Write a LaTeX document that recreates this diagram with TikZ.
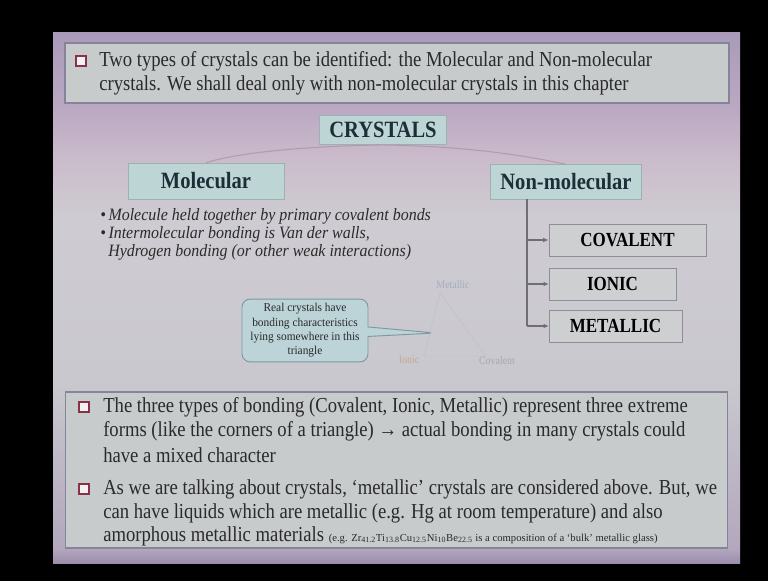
\documentclass[tikz,border=0pt]{standalone}
\usepackage{fontspec}
\setmainfont{Liberation Serif}[FakeStretch=0.875]
\newfontfamily\hdrfont{Liberation Serif}[FakeStretch=0.88]
\newfontfamily\kindfont{Liberation Serif}[FakeStretch=0.85]
\newfontfamily\itfont{Liberation Serif}[FakeStretch=0.92]
\newfontfamily\smallfont{Liberation Serif}[FakeStretch=1.0]
\newfontfamily\callfont{Liberation Serif}[FakeStretch=0.95]
\usetikzlibrary{shapes.callouts,arrows.meta}
\definecolor{sA}{HTML}{9C8DAD}
\definecolor{sB}{HTML}{B3A8BE}
\definecolor{sC}{HTML}{C9C8CE}
\definecolor{sD}{HTML}{CECCD2}
\definecolor{sE}{HTML}{CBBCCB}
\definecolor{sF}{HTML}{BBA9C3}
\definecolor{sG}{HTML}{A99BB9}
\definecolor{panelfill}{HTML}{C8CBCB}
\definecolor{paneldraw}{HTML}{86849A}
\definecolor{hdrfill}{HTML}{BDD5D5}
\definecolor{hdrdraw}{HTML}{9AB2B2}
\definecolor{hdrtext}{HTML}{1E2E38}
\definecolor{boxfill}{HTML}{CDCFD1}
\definecolor{boxdraw}{HTML}{8E8E96}
\definecolor{textcol}{HTML}{2A2A2A}
\definecolor{callfill}{HTML}{BCD4D8}
\definecolor{calldraw}{HTML}{7C98A0}
\definecolor{linkcol}{HTML}{B59AAE}
\definecolor{treecol}{HTML}{6E6E74}
\definecolor{tricol}{HTML}{C2C4CA}
\definecolor{cbred}{HTML}{8A3048}
\definecolor{metlab}{HTML}{A4ABC4}
\definecolor{ionlab}{HTML}{C6A892}
\definecolor{covlab}{HTML}{A8A8AC}
\pgfdeclareverticalshading{slidebg}{100bp}{color(0bp)=(sA); color(25bp)=(sA); color(26.4bp)=(sB); color(42.3bp)=(sC); color(57.4bp)=(sD); color(63bp)=(sE); color(67.7bp)=(sF); color(75bp)=(sG); color(100bp)=(sG)}
\begin{document}
\begin{tikzpicture}[x=0.75pt,y=-0.75pt,
  panel/.style={draw=paneldraw, line width=0.8pt, fill=panelfill, inner sep=0pt},
  hdr/.style={draw=hdrdraw, fill=hdrfill, text=hdrtext, font=\hdrfont\bfseries\fontsize{17.5}{19}\selectfont, inner sep=0pt},
  kind/.style={draw=boxdraw, fill=boxfill, text=black, font=\kindfont\bfseries\fontsize{15}{17}\selectfont, inner sep=0pt},
  txtline/.style={anchor=west, inner sep=0pt, text=textcol, font=\fontsize{16}{17}\selectfont},
  itline/.style={anchor=west, inner sep=0pt, text=textcol, font=\itfont\itshape\fontsize{13}{14}\selectfont},
  cbx/.style={draw=cbred, line width=1.1pt, fill=white!90!gray, minimum size=7.5pt, inner sep=0pt},
  link/.style={draw=linkcol, line width=0.8pt},
  tree/.style={draw=treecol, line width=0.8pt},
  tlab/.style={inner sep=0pt, font=\fontsize{8.5}{9}\selectfont}
]
% background and slide
\fill[black] (0,0) rectangle (768,581);
\shade[shading=slidebg] (53,33) rectangle (740,563);

% top panel
\node[panel, minimum width=498pt, minimum height=45pt] (toppanel) at (397,73) {};
\node[cbx] (cb1) at (81,61) {};
\node[txtline] (t1) at (99,61) {Two types of crystals can be identified: the Molecular and Non-molecular};
\node[txtline] (t2) at (99,85) {crystals. We shall deal only with non-molecular crystals in this chapter};

% hierarchy
\node[hdr, minimum width=95pt, minimum height=22pt] (crys) at (383,130) {CRYSTALS};
\node[hdr, minimum width=117pt, minimum height=27pt] (mol) at (206,181) {Molecular};
\node[hdr, minimum width=113pt, minimum height=26pt] (nonmol) at (566,182) {Non-molecular};
\draw[link] (crys.south) .. controls (310,146) and (240,152) .. (mol.north);
\draw[link] (crys.south) .. controls (450,146) and (510,152) .. (nonmol.north);

% molecular bullets
\node[itline] (b1) at (100,216) {\textbullet\hspace{2pt}Molecule held together by primary covalent bonds};
\node[itline] (b2) at (100,234) {\textbullet\hspace{2pt}Intermolecular bonding is Van der walls,};
\node[itline] (b3) at (108,252) {Hydrogen bonding (or other weak interactions)};

% non-molecular kinds
\node[kind, minimum width=118pt, minimum height=24pt] (cov) at (627.5,240) {COVALENT};
\node[kind, minimum width=95pt, minimum height=24pt] (ion) at (612.5,284) {IONIC};
\node[kind, minimum width=99.5pt, minimum height=24pt] (met) at (615.5,326) {METALLIC};
\coordinate (trunk) at (527,199);
\draw[tree] (trunk) -- (trunk |- met.west);
\draw[tree,-{Latex[length=4pt,width=3.5pt]}] (trunk |- cov.west) -- (cov.west);
\draw[tree,-{Latex[length=4pt,width=3.5pt]}] (trunk |- ion.west) -- (ion.west);
\draw[tree,-{Latex[length=4pt,width=3.5pt]}] (trunk |- met.west) -- (met.west);

% triangle
\coordinate (ta) at (440,293);
\coordinate (tl) at (424,356);
\coordinate (tr) at (486,356);
\draw[tricol, line width=0.6pt] (ta) -- (tl) -- (tr) -- cycle;
\node[tlab, text=metlab] (metl) at (453,285) {Metallic};
\node[tlab, text=ionlab] (ionl) at (409,360) {Ionic};
\node[tlab, text=covlab] (covl) at (497,361) {Covalent};
\coordinate (tri) at (435,333);
\node[rectangle callout, rounded corners=6pt, draw=calldraw, line width=0.7pt, fill=callfill,
      minimum width=94.5pt, minimum height=47pt, inner sep=1pt, align=center,
      text=textcol, font=\callfont\fontsize{9}{10.8}\selectfont,
      callout absolute pointer={(tri)}] (call) at (305,330.5)
      {Real crystals have\\bonding characteristics\\lying somewhere in this\\triangle};

% bottom panel
\node[panel, minimum width=497pt, minimum height=117pt] (botpanel) at (396.5,470) {};
\node[cbx] (cb2) at (84,407) {};
\node[txtline] (u1) at (103,407) {The three types of bonding (Covalent, Ionic, Metallic) represent three extreme};
\node[txtline] (u2) at (103,431) {forms (like the corners of a triangle) → actual bonding in many crystals could};
\node[txtline] (u3) at (103,455) {have a mixed character};
\node[cbx] (cb3) at (84,489) {};
\node[txtline] (v1) at (103,489) {As we are talking about crystals, `metallic' crystals are considered above. But, we};
\node[txtline] (v2) at (103,513) {can have liquids which are metallic (e.g. Hg at room temperature) and also};
\node[txtline] (v3) at (103,536) {amorphous metallic materials {\smallfont\fontsize{8}{9}\selectfont (e.g. Zr\textsubscript{41.2}Ti\textsubscript{13.8}Cu\textsubscript{12.5}Ni\textsubscript{10}Be\textsubscript{22.5} is a composition of a ‘bulk’ metallic glass)}};
\end{tikzpicture}
\end{document}
